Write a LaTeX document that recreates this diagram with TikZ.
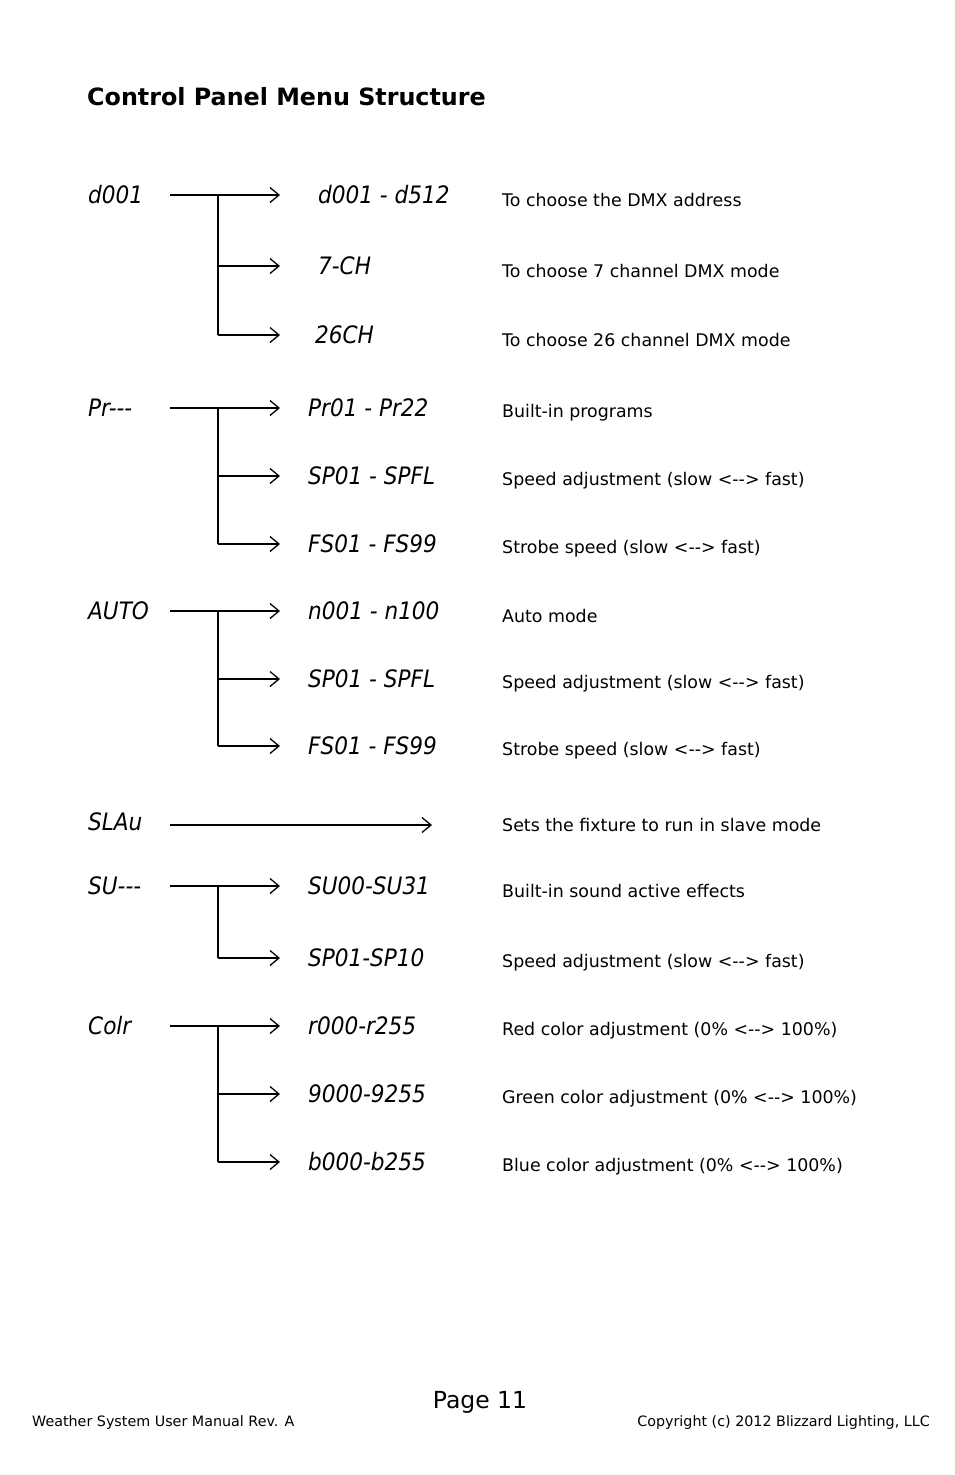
\documentclass[tikz,border=0pt]{standalone}
\usepackage{fontspec}
\setmainfont{DejaVu Sans}
\newfontfamily\codefont{DejaVu Sans Condensed}
\usetikzlibrary{arrows.meta}
\begin{document}
\begin{tikzpicture}[x=1pt,y=-1pt,
  code/.style={anchor=west,inner sep=0pt,font=\codefont\itshape\fontsize{24}{24}\selectfont},
  desc/.style={anchor=west,inner sep=0pt,font=\fontsize{17.4}{19}\selectfont},
  arr/.style={line width=1.3pt,-{Straight Barb[length=9pt,width=15pt,line width=1.3pt]}},
  ln/.style={line width=1.3pt}]
\useasboundingbox (0,0) rectangle (954,1475);
\node[anchor=west,inner sep=0pt,font=\bfseries\fontsize{23.8}{26}\selectfont] (title) at (87,97) {Control Panel Menu Structure};
\def\mainrow#1#2#3{\node[code] (#1) at (88,#2) {#3}; \coordinate (#1s) at (170,#2);}
\def\subrow#1#2#3#4#5{\coordinate (#1a) at (280,#2); \node[code] (#1c) at (#3,#2) {#4}; \node[desc] (#1d) at (502,#2+5) {#5};}
\def\lr{<{-}{-}>}
% group 1
\mainrow{m1}{195}{d001}
\subrow{a1}{195}{318}{d001 - d512}{To choose the DMX address}
\subrow{a2}{266}{318}{7-CH}{To choose 7 channel DMX mode}
\subrow{a3}{335}{315}{26CH}{To choose 26 channel DMX mode}
\draw[arr] (m1s) -- (a1a);
\draw[ln] (218,195) -- (218,335);
\draw[arr] (218,266) -- (a2a);
\draw[arr] (218,335) -- (a3a);
% group 2
\mainrow{m2}{408}{Pr---}
\subrow{b1}{408}{308}{Pr01 - Pr22}{Built-in programs}
\subrow{b2}{476}{308}{SP01 - SPFL}{Speed adjustment (slow \lr{} fast)}
\subrow{b3}{544}{308}{FS01 - FS99}{Strobe speed (slow \lr{} fast)}
\draw[arr] (m2s) -- (b1a);
\draw[ln] (218,408) -- (218,544);
\draw[arr] (218,476) -- (b2a);
\draw[arr] (218,544) -- (b3a);
% group 3
\mainrow{m3}{611}{AUTO}
\subrow{c1}{611}{308}{n001 - n100}{Auto mode}
\subrow{c2}{679}{308}{SP01 - SPFL}{Speed adjustment (slow \lr{} fast)}
\subrow{c3}{746}{308}{FS01 - FS99}{Strobe speed (slow \lr{} fast)}
\draw[arr] (m3s) -- (c1a);
\draw[ln] (218,611) -- (218,746);
\draw[arr] (218,679) -- (c2a);
\draw[arr] (218,746) -- (c3a);
% slave
\mainrow{m4}{822}{SLAu}
\coordinate (s4) at (432,825);
\node[desc] (d4) at (502,825) {Sets the fixture to run in slave mode};
\draw[arr] (170,825) -- (s4);
% group 5
\mainrow{m5}{886}{SU---}
\subrow{e1}{886}{308}{SU00-SU31}{Built-in sound active effects}
\subrow{e2}{958}{308}{SP01-SP10}{Speed adjustment (slow \lr{} fast)}
\draw[arr] (m5s) -- (e1a);
\draw[ln] (218,886) -- (218,958);
\draw[arr] (218,958) -- (e2a);
% group 6
\mainrow{m6}{1026}{Colr}
\subrow{f1}{1026}{308}{r000-r255}{Red color adjustment (0\% \lr{} 100\%)}
\subrow{f2}{1094}{308}{9000-9255}{Green color adjustment (0\% \lr{} 100\%)}
\subrow{f3}{1162}{308}{b000-b255}{Blue color adjustment (0\% \lr{} 100\%)}
\draw[arr] (m6s) -- (f1a);
\draw[ln] (218,1026) -- (218,1162);
\draw[arr] (218,1094) -- (f2a);
\draw[arr] (218,1162) -- (f3a);
% footer
\node[inner sep=0pt,font=\fontsize{23.5}{25}\selectfont] (pg) at (480,1402) {Page 11};
\node[anchor=west,inner sep=0pt,font=\fontsize{14.3}{16}\selectfont] (fl) at (32,1423) {Weather System User Manual Rev. A};
\node[anchor=east,inner sep=0pt,font=\fontsize{14.3}{16}\selectfont] (fr) at (930,1423) {Copyright (c) 2012 Blizzard Lighting, LLC};
\end{tikzpicture}
\end{document}
